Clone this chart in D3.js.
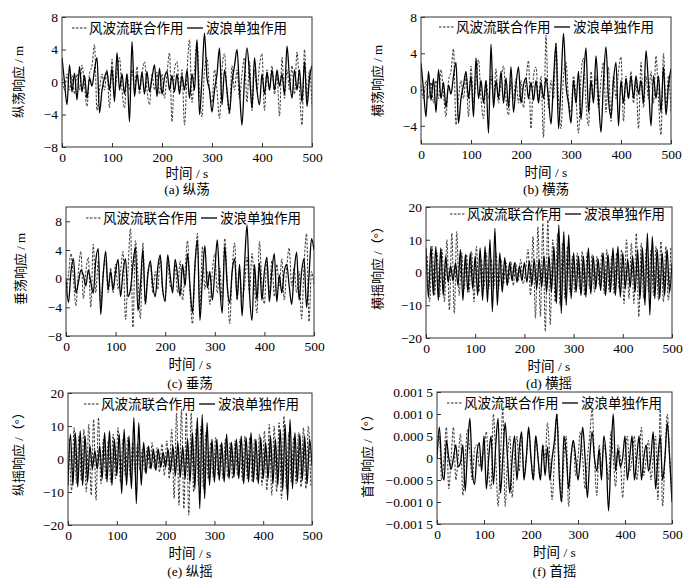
<!DOCTYPE html>
<html>
<head>
<meta charset="utf-8">
<script src="https://cdn.jsdelivr.net/npm/d3@7"></script>
<style>
  body { margin: 0; background: #fff; }
  text { font-family: "Liberation Serif", "Noto Sans CJK SC", serif; }
</style>
</head>
<body>
<svg width="695" height="584"></svg>
<script>
// samples every 5 s; the dashed roll / pitch series are sampled half a step later
const timeStep = 5;
const timeTicks = [0, 100, 200, 300, 400, 500];

const surgeTicks = [-8, -4, 0, 4, 8];
const swayTicks = [-4, 0, 4, 8];
const heaveTicks = [-8, -4, 0, 4, 8];
const rollTicks = [-20, -10, 0, 10, 20];
const pitchTicks = [-20, -10, 0, 10, 20];
const yawTicks = [-0.0015, -0.001, -0.0005, 0, 0.0005, 0.001, 0.0015];

// (a) surge, m
const surgeWave = [
  3.0, 0.0, -2.8, 2.1, -1.2, 1.1, -2.2, 1.9, -1.2, 0.8,
  -2.0, 0.5, -0.5, 1.5, 3.0, -3.8, -1.0, 0.5, 1.3, -1.0,
  1.7, -2.4, 3.6, -1.0, 1.0, -1.5, 1.0, -4.9, 5.0, -1.8,
  1.0, -1.0, 1.2, -1.5, 1.3, -1.2, 0.5, 2.1, -1.8, 1.7,
  -1.5, 0.5, 1.3, -1.0, 0.8, -1.2, 1.0, -1.5, 0.8, -1.0,
  1.5, -2.0, 1.0, -1.0, 5.2, -4.0, 0.5, 6.0, 0.5, -1.0,
  -3.7, -1.0, 1.0, 4.2, -2.8, 1.5, -1.0, -3.7, 0.0, 2.0,
  4.0, -1.0, -5.3, 0.5, 4.2, 1.0, -3.2, 3.0, -1.0, -2.8,
  1.0, -1.5, 1.2, -1.0, 1.5, -1.0, 1.5, -0.5, 1.0, -1.5,
  4.4, 0.5, -2.0, 1.5, -1.0, 1.5, -2.5, 2.5, -3.0, 0.5,
  2.0
];
const surgeCombined = [
  0.5, -1.0, 1.0, -1.0, 0.8, -1.5, 1.0, -1.0, 2.1, -0.5,
  -3.0, 1.0, 2.0, 4.6, -3.5, -1.0, 1.0, -1.0, 1.5, -3.2,
  2.8, -1.5, 1.0, 3.0, -1.0, -3.2, 1.0, -1.0, 1.5, -1.0,
  1.9, -1.5, 1.0, 2.5, -1.0, -2.8, 1.0, -1.0, 1.2, -1.5,
  1.0, -2.0, 1.0, 3.6, -4.9, 1.5, 2.5, -1.0, 1.5, -5.3,
  1.0, 5.2, -2.5, 1.5, 5.0, -1.0, -4.3, 1.5, 3.0, -1.0,
  -2.5, 1.5, -1.0, -4.5, 1.5, 3.5, -1.5, -4.0, 2.0, -1.0,
  1.5, -2.0, 1.0, 3.0, -2.5, 2.5, -3.5, 1.5, -1.0, 2.0,
  3.5, -3.5, 1.5, -1.0, 2.0, -1.5, 1.0, -4.2, 3.0, -2.0,
  1.5, -1.0, 2.0, -1.5, 3.7, -1.0, -5.3, 4.0, -2.0, 1.5,
  -3.0
];

// (b) sway, m
const swayWave = [
  2.9, 0.0, -3.0, 2.0, -1.2, 1.2, -2.5, 2.2, -1.0, 0.8,
  -2.0, 0.5, -0.5, 1.5, 3.0, -3.7, -1.0, 0.5, 2.0, -1.0,
  1.5, -3.0, 3.5, -1.0, 1.0, -1.5, 1.0, -4.8, 5.0, -2.0,
  1.0, -1.0, 2.0, -1.5, 1.3, -2.0, 2.5, -2.5, 0.5, 2.5,
  -1.5, 0.5, 1.3, -1.0, 0.8, -1.2, 1.0, -1.5, 0.8, -1.0,
  1.3, -1.0, -3.8, 1.0, 5.0, -4.3, 0.5, 6.2, 0.5, -1.5,
  -3.7, 1.0, -1.5, 2.0, -3.3, 1.0, 4.6, -2.5, 1.0, -1.5,
  3.7, -1.0, -4.7, 1.0, 4.7, -1.0, -3.0, 1.0, 3.0, -4.0,
  1.0, -1.5, 1.2, -1.0, 1.5, -1.0, 1.5, -0.5, 1.0, -1.5,
  4.3, 0.5, -4.0, 1.5, -1.0, 1.5, -2.5, 2.5, -2.8, 0.5,
  2.3
];
const swayCombined = [
  0.5, -1.0, 1.0, -1.0, 0.8, -1.5, 1.0, -1.0, 2.2, -0.5,
  -3.0, 1.0, 2.0, 4.5, -3.9, -1.0, 1.0, -1.0, 1.5, -3.0,
  2.6, -1.5, 1.0, 3.3, -1.0, -3.2, 1.0, -1.0, 1.5, -1.0,
  2.3, -1.5, 1.0, 2.6, -1.0, -2.8, 1.0, -1.0, 1.2, -1.5,
  1.0, -2.0, 1.0, 3.2, -4.3, 1.5, 2.5, -1.0, 1.5, -5.3,
  6.0, -2.0, 1.0, -1.0, 5.2, -1.0, -4.3, 1.5, 3.0, -1.0,
  -2.5, 1.5, -1.0, -4.8, 1.5, 3.5, -1.5, -4.0, 2.0, -1.0,
  1.5, -2.0, 1.0, 3.0, -2.5, 2.5, -3.5, 1.5, -1.0, 2.0,
  3.6, -3.5, 1.5, -1.0, 2.0, -1.5, 1.0, -4.3, 3.0, -2.0,
  1.5, -1.0, 2.0, -1.5, 3.7, -1.0, -5.0, 4.0, -2.0, 1.5,
  -2.5
];

// (c) heave, m
const heaveWave = [
  0.0, -3.3, 1.0, 2.8, -2.0, -0.5, 1.2, 0.5, -1.0, 1.2,
  -0.5, -2.0, 2.5, 4.2, -5.0, 0.5, 3.8, -1.5, 1.0, -1.5,
  1.0, 2.7, -2.5, 1.0, 2.8, -2.5, -1.5, 2.0, 4.4, -4.5,
  -1.0, 4.0, -3.5, 0.5, 2.5, -1.0, -2.5, 1.5, 3.3, -1.5,
  -3.2, 3.3, 0.5, -2.0, 2.7, 0.5, -2.4, 2.0, -1.0, 3.5,
  -1.0, -4.8, 2.0, 5.4, -5.8, 0.0, 4.6, -1.3, 1.0, -3.0,
  1.0, 5.4, -1.0, -4.8, 4.6, -1.0, -3.4, 1.0, 2.8, -2.8,
  2.0, -5.2, 2.0, 7.5, -2.0, -5.8, 2.0, -3.0, 2.2, -3.0,
  1.0, 3.0, -3.2, 1.0, 3.5, -3.2, 0.5, -2.0, 1.0, 2.0,
  -1.0, -3.6, 1.0, 3.7, -3.0, 1.0, 2.8, -4.0, 0.5, 5.6,
  4.0
];
const heaveCombined = [
  -2.5, 0.5, 3.5, 0.0, -3.8, 1.0, 3.8, -2.8, 1.0, 3.0,
  -4.0, 4.8, -2.0, 2.5, -3.5, 1.0, 2.5, -2.0, 1.5, -2.0,
  2.0, -1.5, 1.0, 3.8, -5.7, 1.0, 7.0, -6.8, 5.3, 0.5,
  -5.6, 5.0, -3.6, 1.0, 2.0, -2.0, 1.0, -1.5, 3.0, -2.0,
  -2.5, 2.5, -1.0, -1.5, 2.0, -2.0, 2.5, -3.0, 1.0, 5.3,
  -2.0, -6.3, 1.0, 6.3, -5.0, 4.5, -1.5, 1.0, -3.6, 1.0,
  3.5, -2.0, 1.5, -3.0, 5.6, 0.0, -6.3, 1.0, 5.0, -3.0,
  1.0, -2.5, -1.0, 3.0, -2.0, 3.5, -1.0, -4.8, 5.2, -1.0,
  -3.5, 2.5, -2.0, 2.5, -2.5, 2.0, -1.0, 2.8, -3.0, 1.5,
  4.3, -1.0, 1.5, -2.0, 1.0, -5.6, 2.0, 6.3, -6.0, 1.0,
  -1.0
];

// (d) roll, deg
const rollWave = [
  7.5, -7.5, 8.0, -7.0, 8.0, -8.5, 7.5, -7.0, 5.0, -3.0,
  2.0, -2.5, 3.0, -4.0, 7.0, -8.5, 5.5, -6.0, 6.0, -5.0,
  5.0, -7.0, 7.5, -8.5, 8.0, -9.0, 10.0, -12.0, 13.5, -10.0,
  6.0, -6.0, 4.5, -4.0, 3.0, -2.5, 3.0, -3.0, 2.0, -2.5,
  3.0, -3.0, 3.5, -4.0, 4.0, -5.0, 4.0, -4.5, 5.0, -6.0,
  5.0, -6.0, 8.0, -9.5, 14.5, -12.5, 12.5, -10.0, 11.5, -8.0,
  6.0, -6.0, 5.0, -7.0, 5.0, -7.5, 7.5, -6.5, 5.0, -5.0,
  4.0, -5.5, 6.0, -7.0, 5.5, -6.0, 7.5, -7.0, 8.0, -7.5,
  6.0, -5.0, 4.0, -4.5, 5.0, -6.0, 7.0, -8.0, 7.5, -10.0,
  12.0, -13.0, 11.0, -8.0, 7.0, -8.0, 6.0, -7.0, 7.0, -6.0,
  3.0
];
const rollCombined = [
  5.0, -9.0, 8.0, -7.0, 6.0, -7.5, 7.0, -9.0, 10.0, -11.5,
  12.0, -12.5, 12.5, -7.0, 6.0, -5.0, 5.5, -6.0, 6.5, -9.0,
  8.0, -6.0, 4.0, -5.0, 6.0, -5.0, 4.0, -5.0, 6.0, -5.0,
  4.0, -3.5, 3.0, -3.0, 3.5, -4.0, 3.0, -2.5, 4.0, -3.5,
  0.5, 7.0, -7.0, 11.0, -14.0, 14.0, -13.5, 15.0, -18.0, 16.0,
  -16.0, 10.0, -9.0, 12.0, -10.0, 9.0, -8.0, 8.0, -6.0, 5.0,
  -6.0, 6.0, -5.0, 6.5, -7.0, 6.0, -5.0, 5.5, -6.0, 5.0,
  -4.0, 6.0, -6.5, 7.0, -6.0, 5.0, -6.5, 6.0, -5.0, 7.0,
  -9.5, 10.0, -8.0, 9.0, -9.5, 12.0, -13.5, 9.0, -8.0, 7.0,
  -6.0, 7.0, -7.0, 8.0, -8.5, 9.5, -9.0, 8.0, -8.5, 8.0
];

// (e) pitch, deg
const pitchWave = [
  -8.0, 7.5, -8.0, 8.0, -8.5, 8.5, -8.0, 7.0, -7.0, 4.0,
  -3.0, 2.5, -3.0, 4.0, -6.0, 8.0, -7.0, 8.5, -8.0, 6.0,
  -5.0, 7.5, -10.5, 9.0, -8.0, 7.0, -9.0, 12.5, -13.5, 11.0,
  -8.0, 5.0, -4.5, 4.0, -3.0, 3.0, -3.5, 3.0, -2.5, 2.0,
  -2.5, 3.0, -4.0, 4.0, -5.0, 5.0, -5.5, 4.0, -6.0, 6.0,
  -7.0, 8.0, -9.0, 12.5, -15.0, 13.5, -12.0, 11.0, -8.0, 6.0,
  -7.0, 6.0, -6.5, 5.0, -7.0, 7.5, -6.0, 5.0, -5.5, 6.0,
  -6.0, 7.0, -7.5, 6.5, -7.0, 8.0, -7.0, 6.0, -7.5, 6.5,
  -6.0, 5.0, -6.0, 7.0, -7.5, 6.0, -8.0, 9.0, -9.5, 10.5,
  -12.5, 12.0, -9.0, 8.0, -7.0, 7.5, -6.5, 7.0, -7.5, 6.0,
  -2.0
];
const pitchCombined = [
  6.0, -9.5, 9.5, -7.5, 7.0, -6.5, 9.0, -10.0, 10.5, -11.0,
  12.0, -12.5, 12.5, -7.5, 6.0, -6.0, 5.5, -7.0, 7.5, -6.0,
  9.5, -7.0, 6.0, -5.0, 6.5, -5.5, 5.0, -4.0, 4.5, -3.5,
  3.0, -4.0, 3.5, -3.0, 5.0, -3.0, 3.5, -4.0, 4.5, -5.0,
  5.5, -6.0, 9.0, -12.0, 14.0, -14.0, 15.0, -15.0, 14.0, -17.0,
  14.0, -10.0, 9.0, -8.0, 10.0, -9.0, 8.0, -6.0, 5.0, -5.5,
  6.5, -5.0, 4.5, -6.0, 6.0, -5.5, 5.0, -6.0, 5.5, -5.0,
  6.0, -6.5, 7.0, -6.0, 6.5, -7.0, 6.0, -6.5, 7.5, -8.0,
  8.5, -9.5, 10.5, -11.0, 10.0, -10.0, 11.0, -12.0, 13.0, -9.0,
  8.0, -7.0, 6.5, -7.5, 8.0, -8.5, 9.5, -9.0, 10.0, -8.0
];

// (f) yaw, deg
const yawWave = [
  0, 0.0007, -0.0002, -0.0005, 0.0004, 0, -0.00025, 0, 0.0003, -0.0002,
  -0.0001, 0.0003, -0.00075, 0.0002, 0.0009, -0.0003, -0.0006, 0.0001, 0.00035, -0.0003,
  0.0005, -0.0007, 0, 0.0005, -0.0006, 0.0003, 0.0009, -0.0008, 0, 0.0008,
  0, -0.0008, 0, 0.0005, -0.0005, 0.0002, 0.0006, -0.0005, 0, 0.0007,
  0, -0.0005, 0.0005, 0, -0.0005, 0.0003, -0.0004, 0.00025, -0.0005, 0,
  0.0004, 0.001, -0.0004, -0.001, 0.0005, 0.0001, -0.0007, 0, 0.0004, 0,
  -0.0005, 0, 0.0007, 0, -0.0009, 0, 0.0006, 0, -0.0003, 0.0002,
  -0.0005, 0.0005, 0, -0.0012, 0, 0.001, -0.0003, 0.0002, -0.0002, 0,
  0.0005, -0.0005, 0, 0.0005, -0.0005, 0, 0.0005, -0.0005, 0, 0.0003,
  -0.0003, 0, 0.0006, -0.0007, 0, 0.0005, -0.0005, 0, 0.0008, 0,
  -0.001
];
const yawCombined = [
  0, 0.0005, -0.0005, 0, 0.0007, -0.0007, 0, 0.0007, -0.0005, 0,
  0.00055, -0.00085, 0, 0.00065, 0.0001, -0.0005, 0.0002, 0.0003, -0.0002, 0,
  0.0002, 0.0006, -0.0003, -0.0007, 0.001, 0, -0.0011, 0, 0.0011, -0.0011,
  0, 0.0005, -0.0009, 0, 0.0005, -0.0003, 0.0005, -0.0004, 0, 0.0006,
  0, -0.0005, 0.0005, 0, -0.0005, 0.0003, 0, 0.0008, 0, -0.00095,
  0, 0.001, 0, -0.001, 0, 0.0005, -0.0011, 0, 0.0004, -0.0004,
  0, 0.0006, 0, -0.0007, 0, 0.0005, 0.0011, 0, -0.00085, 0.0003,
  -0.0002, 0.0003, 0, -0.0005, 0.0006, 0, -0.00065, 0.0003, 0, -0.0009,
  0, 0.0005, -0.0003, 0, 0.0005, -0.0005, 0, 0.0007, -0.0004, 0,
  0.0004, -0.0005, 0, 0.0005, -0.00095, 0.0011, -0.0011, 0, 0.001, 0,
  -0.0008
];

const legendCombined = '风波流联合作用';
const legendWave = '波浪单独作用';
const xTitle = '时间 / s';

const svg = d3.select('svg');
const serif = '"Liberation Serif", "Noto Sans CJK SC", serif';

const intFormat = d3.format('d');
const yawFormat = v => {
  if (v === 0) return '0';
  const s = d3.format('.4f')(v);
  return s.slice(0, -1) + '\u2009' + s.slice(-1);
};

const panels = [
  { wave: surgeWave, combined: surgeCombined, combinedStart: 0,
    box: [62, 17, 312, 147], yDomain: [-8, 8], yTicks: surgeTicks, fmt: intFormat,
    yTitle: '纵荡响应 / m', yTitleX: 18, yTitleY: 82, caption: '(a) 纵荡',
    legend: [72, 28], xTitleY: 173, captionY: 189 },
  { wave: swayWave, combined: swayCombined, combinedStart: 0,
    box: [421, 17, 671, 144], yDomain: [-6, 8], yTicks: swayTicks, fmt: intFormat,
    yTitle: '横荡响应 / m', yTitleX: 377, yTitleY: 81, caption: '(b) 横荡',
    legend: [439, 27], xTitleY: 172, captionY: 189 },
  { wave: heaveWave, combined: heaveCombined, combinedStart: 0,
    box: [66, 207, 314, 336], yDomain: [-8, 10], yTicks: heaveTicks, fmt: intFormat,
    yTitle: '垂荡响应 / m', yTitleX: 20, yTitleY: 269, caption: '(c) 垂荡',
    legend: [86, 218], xTitleY: 364, captionY: 383 },
  { wave: rollWave, combined: rollCombined, combinedStart: timeStep / 2,
    box: [426, 207, 672, 338], yDomain: [-20, 20], yTicks: rollTicks, fmt: intFormat,
    yTitle: '横摇响应 /（°）', yTitleX: 377, yTitleY: 265, caption: '(d) 横摇',
    legend: [450, 214], xTitleY: 366, captionY: 383 },
  { wave: pitchWave, combined: pitchCombined, combinedStart: timeStep / 2,
    box: [68, 393, 312, 525], yDomain: [-20, 20], yTicks: pitchTicks, fmt: intFormat,
    yTitle: '纵摇响应 /（°）', yTitleX: 18, yTitleY: 451, caption: '(e) 纵摇',
    legend: [84, 404], xTitleY: 553, captionY: 571 },
  { wave: yawWave, combined: yawCombined, combinedStart: 0,
    box: [437, 392, 672, 524], yDomain: [-0.0015, 0.0015], yTicks: yawTicks, fmt: yawFormat,
    yTitle: '首摇响应 /（°）', yTitleX: 367, yTitleY: 453, caption: '(f) 首摇',
    legend: [447, 403], xTitleY: 552, captionY: 571 }
];

panels.forEach((p, k) => {
  const [x0, y0, x1, y1] = p.box;
  const x = d3.scaleLinear().domain([0, 500]).range([x0, x1]);
  const y = d3.scaleLinear().domain(p.yDomain).range([y1, y0]);
  const g = svg.append('g');

  g.append('clipPath').attr('id', 'clip' + k)
    .append('rect')
    .attr('x', x0).attr('y', y0)
    .attr('width', x1 - x0).attr('height', y1 - y0);

  const line = d3.line()
    .x(d => x(d[0]))
    .y(d => y(d[1]))
    .curve(d3.curveMonotoneX);

  const wavePts = p.wave.map((v, i) => [i * timeStep, v]);
  const combPts = p.combined.map((v, i) => [p.combinedStart + i * timeStep, v]);

  const lines = g.append('g').attr('clip-path', `url(#clip${k})`);
  lines.append('path')
    .attr('d', line(combPts))
    .attr('fill', 'none')
    .attr('stroke', '#222')
    .attr('stroke-width', 0.9)
    .attr('stroke-dasharray', '2.5,1.5');
  lines.append('path')
    .attr('d', line(wavePts))
    .attr('fill', 'none')
    .attr('stroke', '#000')
    .attr('stroke-width', 1.3);

  // axes with inward ticks
  const xAxis = g.append('g')
    .attr('transform', `translate(0, ${y1})`)
    .call(d3.axisBottom(x).tickValues(timeTicks).tickSizeInner(-4).tickSizeOuter(0).tickPadding(5));
  const yAxis = g.append('g')
    .attr('transform', `translate(${x0}, 0)`)
    .call(d3.axisLeft(y).tickValues(p.yTicks).tickFormat(p.fmt).tickSizeInner(-4).tickSizeOuter(0).tickPadding(4));
  [xAxis, yAxis].forEach(a => {
    a.select('.domain').remove();
    a.selectAll('line').attr('stroke', '#333');
    a.selectAll('text').attr('font-family', serif).attr('font-size', 13.5).attr('fill', '#000');
  });

  g.append('rect')
    .attr('x', x0).attr('y', y0)
    .attr('width', x1 - x0).attr('height', y1 - y0)
    .attr('fill', 'none')
    .attr('stroke', '#333')
    .attr('stroke-width', 1);

  // legend
  const [lx, ly] = p.legend;
  g.append('line')
    .attr('x1', lx).attr('x2', lx + 16).attr('y1', ly).attr('y2', ly)
    .attr('stroke', '#222').attr('stroke-width', 1).attr('stroke-dasharray', '2.5,1.5');
  g.append('text')
    .attr('x', lx + 17).attr('y', ly)
    .attr('dominant-baseline', 'central')
    .attr('font-size', 13.5)
    .text(legendCombined);
  g.append('line')
    .attr('x1', lx + 115).attr('x2', lx + 131).attr('y1', ly).attr('y2', ly)
    .attr('stroke', '#000').attr('stroke-width', 1.3);
  g.append('text')
    .attr('x', lx + 134).attr('y', ly)
    .attr('dominant-baseline', 'central')
    .attr('font-size', 13.5)
    .text(legendWave);

  // titles
  const cx = (x0 + x1) / 2;
  g.append('text')
    .attr('x', cx).attr('y', p.xTitleY)
    .attr('text-anchor', 'middle').attr('dominant-baseline', 'central')
    .attr('font-size', 13.5)
    .text(xTitle);
  g.append('text')
    .attr('x', cx).attr('y', p.captionY)
    .attr('text-anchor', 'middle').attr('dominant-baseline', 'central')
    .attr('font-size', 13.5)
    .text(p.caption);
  g.append('text')
    .attr('transform', `translate(${p.yTitleX}, ${p.yTitleY}) rotate(-90)`)
    .attr('text-anchor', 'middle').attr('dominant-baseline', 'central')
    .attr('font-size', 13)
    .text(p.yTitle);
});
</script>
</body>
</html>
